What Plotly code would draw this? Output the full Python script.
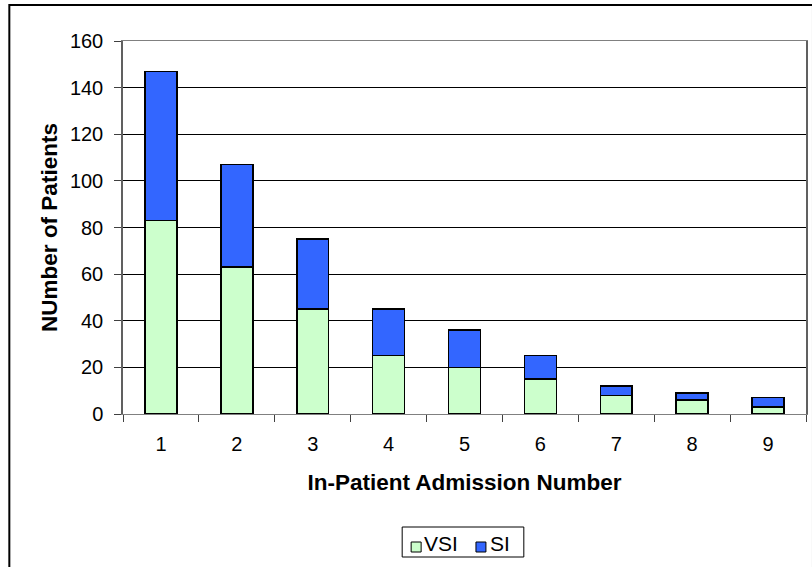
import plotly.graph_objects as go

categories = ["1", "2", "3", "4", "5", "6", "7", "8", "9"]
vsi = [83, 63, 45, 25, 20, 15, 8, 6, 3]
totals = [147, 107, 75, 45, 36, 25, 12, 9, 7]
si = [t - v for t, v in zip(totals, vsi)]
y_ticks = [0, 20, 40, 60, 80, 100, 120, 140, 160]
series_names = ["VSI", "SI"]
series_colors = ["#CCFFCC", "#3366FF"]

FONT = "Liberation Sans, Arial, sans-serif"

fig = go.Figure()
for name, vals, col in zip(series_names, [vsi, si], series_colors):
    fig.add_trace(go.Bar(x=categories, y=vals, name=name, showlegend=False,
                         marker=dict(color=col, line=dict(color="black", width=1.5))))

L, R, T, B = 123, 4, 41, 153
W, H = 812, 567
pw, ph = W - L - R, H - T - B

def px_x(p):
    return (p - L) / pw

def px_y(p):
    return (H - B - p) / ph

shapes = [dict(type="rect", xref="paper", yref="paper",
               x0=px_x(9), x1=px_x(815), y0=px_y(575), y1=px_y(5),
               line=dict(color="black", width=2), fillcolor="rgba(0,0,0,0)",
               layer="above"),
          dict(type="rect", xref="paper", yref="paper",
               x0=px_x(403), x1=px_x(525), y0=px_y(557), y1=px_y(527),
               line=dict(color="black", width=1), fillcolor="white")]
annotations = []
legend_sym_x = [412, 477]
legend_txt_x = [423, 489]
for name, col, sx, tx in zip(series_names, series_colors, legend_sym_x, legend_txt_x):
    shapes.append(dict(type="rect", xref="paper", yref="paper",
                       x0=px_x(sx), x1=px_x(sx + 10), y0=px_y(552), y1=px_y(542),
                       line=dict(color="black", width=1), fillcolor=col))
    annotations.append(dict(text=name, xref="paper", yref="paper",
                            x=px_x(tx), y=px_y(543), xanchor="left", yanchor="middle",
                            showarrow=False, font=dict(size=21)))

fig.update_layout(
    width=W, height=H,
    barmode="stack", bargap=0.58,
    paper_bgcolor="white", plot_bgcolor="white",
    margin=dict(l=L, r=R, t=T, b=B, pad=0),
    font=dict(family=FONT, size=20, color="black"),
    showlegend=False,
    xaxis=dict(type="category", showgrid=False, showline=True, linecolor="#808080",
               linewidth=1, mirror=True, ticks="outside", tickson="boundaries",
               ticklen=7, tickcolor="#404040", ticklabelstandoff=12,
               title=dict(text="<b>In-Patient Admission Number</b>",
                          font=dict(size=22.5), standoff=20)),
    yaxis=dict(range=[0, 160], tickvals=y_ticks, showgrid=True, gridcolor="black",
               gridwidth=1, showline=True, linecolor="#606060", linewidth=1.5,
               mirror=True, ticks="outside", ticklen=7, tickcolor="#404040",
               ticklabelstandoff=7, zeroline=False,
               title=dict(text="<b>NUmber of Patients</b>",
                          font=dict(size=22.5), standoff=6)),
    shapes=shapes,
    annotations=annotations,
)

fig.write_html("out.html", config={"displayModeBar": False},
               post_script="document.body.style.margin='0px';document.body.style.overflow='hidden';")
